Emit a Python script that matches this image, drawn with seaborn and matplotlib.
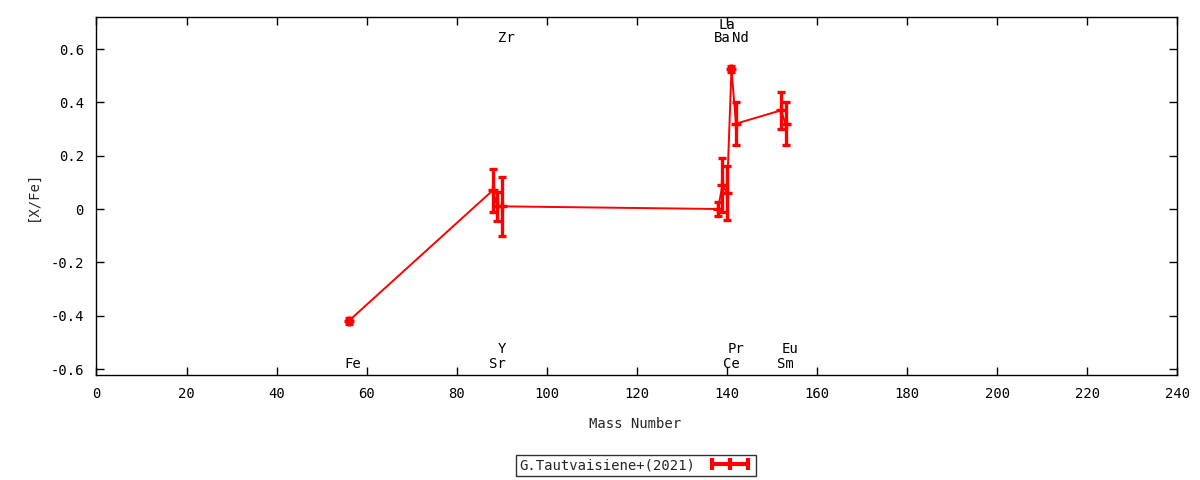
import numpy as np
import pandas as pd
import matplotlib
matplotlib.use("Agg")
import matplotlib.pyplot as plt
from matplotlib.lines import Line2D
from matplotlib.ticker import FuncFormatter
import seaborn as sns

# ---- data ----
elements = ['Fe', 'Sr', 'Y', 'Zr', 'Ba', 'La', 'Ce', 'Pr', 'Nd', 'Sm', 'Eu']
mass = [56, 88, 89, 90, 138, 139, 140, 141, 142, 152, 153]
xfe = [-0.42, 0.07, 0.01, 0.01, 0.00, 0.09, 0.06, 0.525, 0.32, 0.37, 0.32]
xfe_err = [0.01, 0.08, 0.055, 0.11, 0.025, 0.10, 0.10, 0.01, 0.08, 0.07, 0.08]
label_row = [0, 0, 1, 2, 2, 3, 0, 1, 2, 0, 1]
series_name = 'G.Tautvaisiene+(2021)'
x_ticks = list(range(0, 241, 20))
y_ticks = [-0.6, -0.4, -0.2, 0.0, 0.2, 0.4, 0.6]

df = pd.DataFrame({'element': elements, 'mass': mass, 'xfe': xfe, 'err': xfe_err})

sns.set_theme(style='white')
plt.rcParams['font.family'] = ['DejaVu Sans Mono', 'DejaVu Sans']
plt.rcParams['font.size'] = 10

fig = plt.figure(figsize=(12, 4.8), dpi=100)
ax = fig.add_axes([0.0804, 0.21875, 0.9007, 0.7458])

red = '#ff0000'
sns.lineplot(data=df, x='mass', y='xfe', sort=False, estimator=None,
             color=red, lw=1.4, ax=ax)
ax.errorbar(df['mass'], df['xfe'], yerr=df['err'], fmt='+', color=red,
            ecolor=red, elinewidth=2.4, capsize=3.2, capthick=2.4,
            ms=7, mew=2.4, zorder=3)

# element labels
row_y = {0: -0.581, 1: -0.525, 2: 0.641, 3: 0.69}
for el, m, r in zip(elements, mass, label_row):
    ax.text(m + 1, row_y[r], el, ha='center', va='center', fontsize=10,
            color='black')

ax.set_xlim(0, 240)
ax.set_ylim(-0.6225, 0.72)
ax.set_xticks(x_ticks)
ax.set_yticks(y_ticks)
ax.yaxis.set_major_formatter(FuncFormatter(lambda v, p: f'{round(v, 2):g}' if abs(v) > 1e-9 else '0'))
ax.tick_params(direction='in', length=6, width=1, top=True, right=True,
               bottom=True, left=True, labelsize=10, pad=9, colors='black')
for s in ax.spines.values():
    s.set_color('black')
    s.set_linewidth(1)
ax.grid(False)

ax.set_xlabel('Mass Number', fontsize=10)
ax.set_ylabel('[X/Fe]', fontsize=10)
ax.xaxis.set_label_coords(0.498, -0.137)
ax.xaxis.label.set_va('center')
ax.yaxis.set_label_coords(-0.0588, 0.5)
ax.yaxis.label.set_va('center')

handle = Line2D([], [], color=red, lw=3, marker='|', ms=9, mew=3)
leg = fig.legend([handle], [series_name], loc='center',
                 bbox_to_anchor=(0.53, 0.031), markerfirst=False, numpoints=3,
                 handlelength=3.2, handletextpad=0.9, borderpad=0.25,
                 fancybox=False, frameon=True, fontsize=10,
                 borderaxespad=0)
leg.get_frame().set_edgecolor('black')
leg.get_frame().set_linewidth(1)
leg.get_frame().set_facecolor('white')

fig.savefig('out.png', dpi=100, facecolor='white')
